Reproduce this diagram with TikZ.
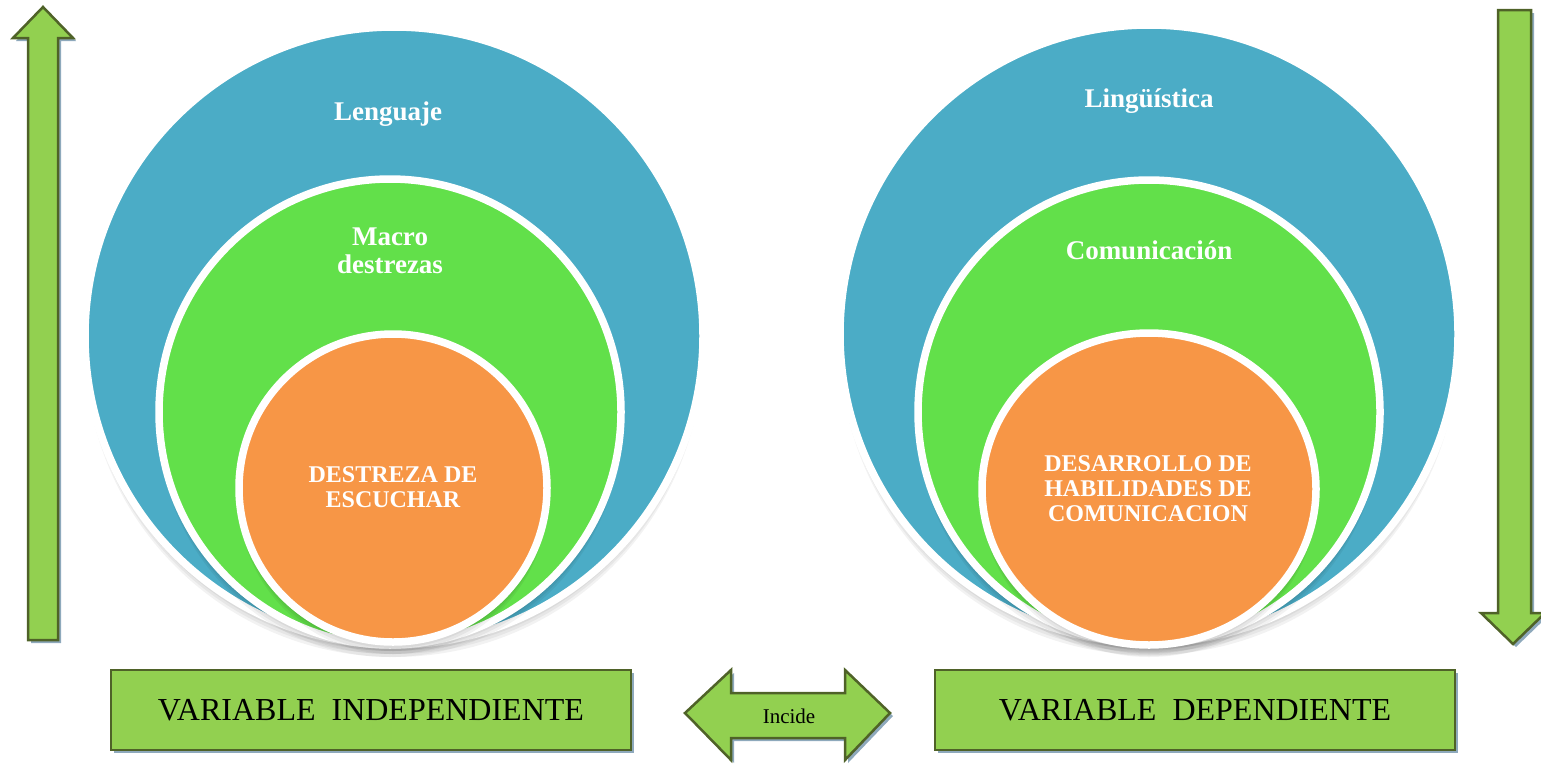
\documentclass[tikz,border=0pt]{standalone}
\usepackage{fontspec}
\setmainfont{Liberation Serif}
\usetikzlibrary{positioning,shapes.geometric}

\definecolor{azul}{HTML}{4BACC6}
\definecolor{verde}{HTML}{62E04A}
\definecolor{naranja}{HTML}{F79646}
\definecolor{flecha}{HTML}{92D050}
\definecolor{borde}{HTML}{4F6228}
\definecolor{sombra}{HTML}{8EA9BC}

\tikzset{
	anillo/.style={ellipse,draw=white,line width=7.5pt,inner sep=0pt},
	flechita/.style={fill=flecha,draw=borde,line width=2.5pt,line join=miter},
	caja/.style={rectangle,fill=flecha,draw=borde,line width=2.5pt,minimum width=520pt,minimum height=80pt,inner sep=0pt,font=\fontsize{32}{36}\selectfont},
	titulo/.style={text=white,align=center,font=\bfseries\fontsize{27}{28}\selectfont},
	nucleo/.style={text=white,align=center,font=\bfseries\fontsize{24}{25}\selectfont},
}

\begin{document}
\begin{tikzpicture}[x=1pt,y=-1pt]
\useasboundingbox (0,0) rectangle (1541,766);

%circles
\foreach \n/\cx/\cy/\rx/\ry/\c in {lenguaje/394/336/309/309/azul, macro/390/412/231/233/verde, escuchar/393/488/154/154/naranja,
	linguistica/1149/334/309/309/azul, comunica/1149/412/231/232/verde, habilidades/1149/489/167/156/naranja}{
	\foreach \d in {3,6,9,12}
		\fill[black,opacity=0.05] (\cx,\cy+\d) ellipse [x radius=\rx pt,y radius=\ry pt];
	\node[anillo,fill=\c,minimum width=2*\rx pt,minimum height=2*\ry pt] (\n) at (\cx,\cy) {};
}

%texts
\node[titulo] (tlenguaje) at (388,114) {Lenguaje};
\node[titulo] (tmacro) at (390,251) {Macro\\destrezas};
\node[nucleo] (tescuchar) at (393,487) {DESTREZA DE\\ESCUCHAR};
\node[titulo] (tlinguistica) at (1149,101) {Lingüística};
\node[titulo] (tcomunica) at (1149,250) {Comunicación};
\node[nucleo] (thabilidades) at (1148,489) {DESARROLLO DE\\HABILIDADES DE\\COMUNICACION};

%side arrows
\fill[sombra] (31,643) -- (31,41) -- (16,41) -- (46,10) -- (76,41) -- (61,41) -- (61,643) -- cycle;
\draw[flechita] (28,640) -- (28,38) -- (13,38) -- (43,7) -- (73,38) -- (58,38) -- (58,640) -- cycle;
\fill[sombra] (1501,13) -- (1501,616) -- (1484,616) -- (1516,647) -- (1548,616) -- (1534,616) -- (1534,13) -- cycle;
\draw[flechita] (1498,10) -- (1498,613) -- (1481,613) -- (1513,644) -- (1545,613) -- (1531,613) -- (1531,10) -- cycle;

%boxes
\fill[sombra] (114,673) rectangle (634,753);
\node[caja] (indep) at (371,710) {VARIABLE\ \ INDEPENDIENTE};
\fill[sombra] (938,673) rectangle (1458,753);
\node[caja] (dep) at (1195,710) {VARIABLE\ \ DEPENDIENTE};

%double arrow
\fill[sombra] (688,716) -- (734,673) -- (734,696) -- (848,696) -- (848,673) -- (893,716) -- (848,763) -- (848,741) -- (734,741) -- (734,763) -- cycle;
\draw[flechita] (685,713) -- (731,670) -- (731,693) -- (845,693) -- (845,670) -- (890,713) -- (845,760) -- (845,738) -- (731,738) -- (731,760) -- cycle;
\node[font=\fontsize{21}{22}\selectfont] (incide) at (789,716) {Incide};
\end{tikzpicture}
\end{document}
